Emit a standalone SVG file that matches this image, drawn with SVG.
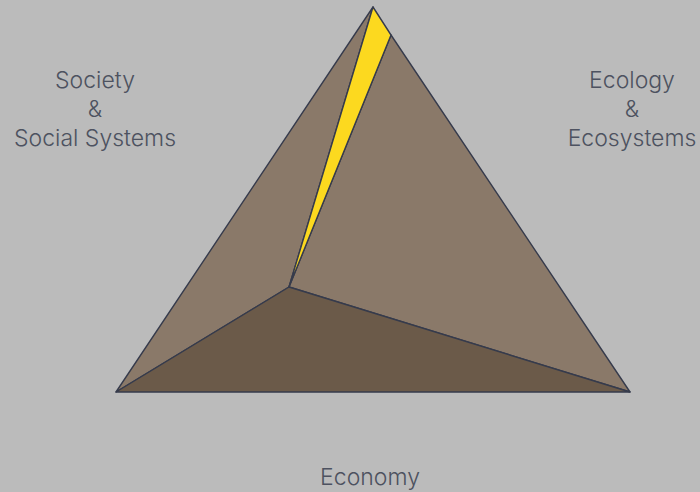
<svg xmlns="http://www.w3.org/2000/svg" width="700" height="492" viewBox="0 0 700 492">
<style>
.face{stroke:#363b4c;stroke-width:1.4;stroke-linejoin:round}
.lbl{font-family:Inter,"Liberation Sans",sans-serif;font-size:23px;font-weight:300;fill:#4d5260;text-anchor:middle}
</style>
<rect width="700" height="492" fill="#bbbbbb"/>
<g id="pyramid">
<polygon id="face-left" class="face" points="373,7 116,392 289,287" fill="#8a7969"/>
<polygon id="face-right" class="face" points="391,35 630,392 289,287" fill="#8a7969"/>
<polygon id="face-bottom" class="face" points="116,392 289,287 630,392" fill="#6b5a49"/>
<polygon id="face-yellow" class="face" points="373,7 391,35 289,287" fill="#fcd91f"/>
</g>
<g id="society"><text class="lbl" x="95" y="88">Society</text><text class="lbl" x="95" y="117">&amp;</text><text class="lbl" x="95" y="146">Social Systems</text></g>
<g id="ecology"><text class="lbl" x="632" y="88">Ecology</text><text class="lbl" x="632" y="117">&amp;</text><text class="lbl" x="632" y="146">Ecosystems</text></g>
<g id="economy"><text class="lbl" x="370" y="485">Economy</text></g>
</svg>
